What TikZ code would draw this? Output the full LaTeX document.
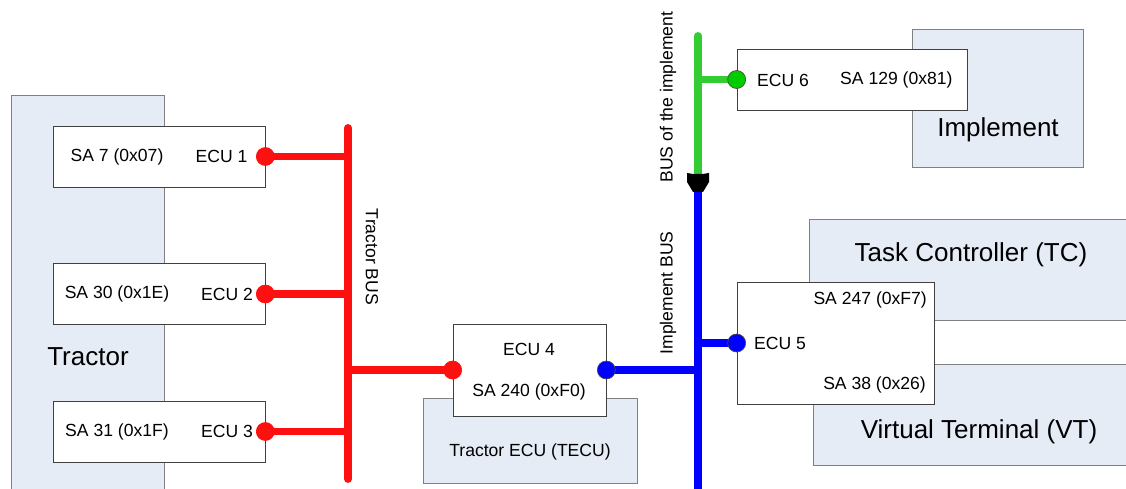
\documentclass[tikz,border=0pt]{standalone}
\usepackage{fontspec}
\setsansfont{Liberation Sans}
\usepackage{tikz}
\usetikzlibrary{positioning,backgrounds,calc}
\definecolor{busred}{HTML}{FF1010}
\definecolor{busblue}{HTML}{0000FF}
\definecolor{busgreen}{HTML}{33CC33}
\definecolor{portgreen}{HTML}{00CC00}
\definecolor{unitfill}{HTML}{E5ECF6}
\definecolor{unitline}{HTML}{808080}

\tikzset{
  unit/.style={draw=unitline,fill=unitfill,inner sep=0pt,anchor=north west},
  unitlabel/.style={font=\sffamily\fontsize{14.8}{17}\selectfont},
  ecubox/.style={draw=black!75,fill=white,inner sep=0pt},
  bus/.style={line width=4.5pt,line cap=round},
  stub/.style={line width=4.5pt,line cap=butt},
  port/.style={circle,draw=black!70,inner sep=0pt,minimum size=0.36cm}
}

\begin{document}
\begin{tikzpicture}[font=\sffamily\fontsize{10}{12}\selectfont,x=0.02cm,y=-0.02cm]
  \useasboundingbox (0,0) rectangle (1126,489);
  \clip (0,0) rectangle (1126,489);
  % units
  \node[unit,minimum width=3.06cm,minimum height=8.3cm] (tractor) at (11,95) {};
  \node[unitlabel] (tractorlbl) at (88,357) {Tractor};
  \node[unit,minimum width=4.28cm,minimum height=1.7cm] (tecu) at (423,398) {};
  \node (teculbl) at (530,452) {Tractor ECU (TECU)};
  \node[unit,minimum width=3.42cm,minimum height=2.76cm] (implement) at (912,29) {};
  \node[unitlabel] (implementlbl) at (998,130) {Implement};
  \node[unit,minimum width=6.7cm,minimum height=2.02cm] (tc) at (809,219) {};
  \node[unitlabel] (tclbl) at (971,255) {Task Controller (TC)};
  \node[unit,minimum width=6.7cm,minimum height=2.02cm] (vt) at (813,364) {};
  \node[unitlabel] (vtlbl) at (979,432) {Virtual Terminal (VT)};

  % tractor ECUs
  \foreach \n/\y/\sa/\ex in {1/156.5/{SA 7 (0x07)}/221.5, 2/294/{SA 30 (0x1E)}/227, 3/431.5/{SA 31 (0x1F)}/227} {
    \node[ecubox,minimum width=4.24cm,minimum height=1.22cm] (ecu\n) at (159,\y) {};
    \node (ecu\n sa) at (117,\y) {\sa};
    \node (ecu\n name) at (\ex,\y) {ECU \n};
    \node[port,fill=busred,draw=busred] (p\n) at (ecu\n.east) {};
  }
  \node[ecubox,minimum width=3.06cm,minimum height=1.84cm] (ecu4) at (529.5,370) {};
  \node (ecu4name) at (529,349) {ECU 4};
  \node (ecu4sa) at (529,392) {SA 240 (0xF0)};
  \node[port,fill=busred,draw=busred] (p4red) at (ecu4.west) {};
  \node[port,fill=busblue] (p4blue) at (ecu4.east) {};

  \node[ecubox,minimum width=3.94cm,minimum height=2.44cm] (ecu5) at (835.5,343) {};
  \node[anchor=east] (ecu5tc) at (933,300) {SA 247 (0xF7)};
  \node[anchor=west] (ecu5name) at (748,343) {ECU 5};
  \node[anchor=east] (ecu5vt) at (932,385) {SA 38 (0x26)};
  \node[port,fill=busblue] (p5) at (ecu5.west) {};

  \node[ecubox,minimum width=4.6cm,minimum height=1.22cm] (ecu6) at (852,79.5) {};
  \node[anchor=west] (ecu6name) at (751,80) {ECU 6};
  \node[anchor=west] (ecu6sa) at (834,80) {SA 129 (0x81)};
  \node[port,fill=portgreen] (p6) at (ecu6.west) {};

  % buses
  \coordinate (tbtop) at (348,128);
  \coordinate (tbbot) at (348,479);
  \coordinate (joint) at (698,173);
  \coordinate (ibbot) at (698,500);
  \coordinate (gbtop) at (698,36);
  \begin{scope}[on background layer]
    \draw[bus,busred] (tbtop) -- (tbbot);
    \foreach \p in {p1,p2,p3,p4red}
      \draw[stub,busred] (\p.center) -- (\p.center -| tbtop);
    \draw[bus,busgreen] (gbtop) -- (joint);
    \draw[stub,busgreen] (p6.center) -- (p6.center -| gbtop);
    \draw[bus,busblue] ($(joint)+(0,14)$) -- (ibbot);
    \foreach \p in {p4blue,p5}
      \draw[stub,busblue] (\p.center) -- (\p.center -| joint);
  \end{scope}
  \fill[black] ($(joint)+(-11,0)$) -- ($(joint)+(-5,1)$) -- ($(joint)+(5,1)$) -- ($(joint)+(11,0)$)
    -- ($(joint)+(11,9)$) -- ($(joint)+(5,19)$) -- ($(joint)+(-5,19)$) -- ($(joint)+(-11,9)$) -- cycle;

  % bus labels
  \node[rotate=-90] (tractorbus) at (372,257) {Tractor BUS};
  \node[rotate=90] (implbus) at (668,293) {Implement BUS};
  \node[rotate=90] (implementbus) at (668,97) {BUS of the implement};
\end{tikzpicture}
\end{document}
